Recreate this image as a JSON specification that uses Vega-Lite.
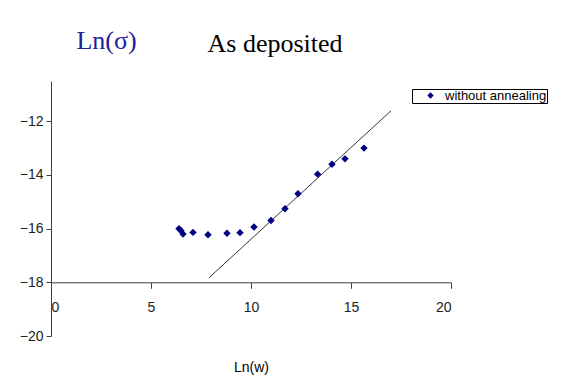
{
  "$schema": "https://vega.github.io/schema/vega-lite/v6.json",
  "width": 400,
  "height": 255,
  "autosize": {"type": "none"},
  "padding": {"left": 51, "top": 81, "right": 116, "bottom": 47},
  "background": "white",
  "config": {
    "view": {"stroke": null},
    "font": "Liberation Sans, Arial, sans-serif"
  },
  "title": {
    "text": "As deposited",
    "font": "Liberation Serif, Times New Roman, serif",
    "fontSize": 26,
    "fontWeight": "normal",
    "color": "#000000",
    "anchor": "middle",
    "frame": "group",
    "dx": 24,
    "baseline": "alphabetic",
    "offset": -51
  },
  "datasets": {
    "points": [
      {"lnw": 6.4, "lns": -16.0, "series": "without annealing"},
      {"lnw": 6.5, "lns": -16.08, "series": "without annealing"},
      {"lnw": 6.6, "lns": -16.2, "series": "without annealing"},
      {"lnw": 7.1, "lns": -16.14, "series": "without annealing"},
      {"lnw": 7.85, "lns": -16.23, "series": "without annealing"},
      {"lnw": 8.8, "lns": -16.17, "series": "without annealing"},
      {"lnw": 9.45, "lns": -16.15, "series": "without annealing"},
      {"lnw": 10.15, "lns": -15.94, "series": "without annealing"},
      {"lnw": 11.0, "lns": -15.7, "series": "without annealing"},
      {"lnw": 11.7, "lns": -15.26, "series": "without annealing"},
      {"lnw": 12.35, "lns": -14.7, "series": "without annealing"},
      {"lnw": 13.33, "lns": -13.97, "series": "without annealing"},
      {"lnw": 14.05, "lns": -13.6, "series": "without annealing"},
      {"lnw": 14.7, "lns": -13.4, "series": "without annealing"},
      {"lnw": 15.65, "lns": -13.0, "series": "without annealing"}
    ],
    "fit": [
      {"lnw": 7.9, "lns": -17.83},
      {"lnw": 17.0, "lns": -11.61}
    ]
  },
  "layer": [
    {
      "data": {"name": "fit"},
      "mark": {"type": "line", "color": "#000000", "strokeWidth": 0.8},
      "encoding": {
        "x": {
          "field": "lnw",
          "type": "quantitative",
          "scale": {"domain": [0, 20], "nice": false, "zero": false},
          "axis": {
            "title": "Ln(w)",
            "values": [0, 5, 10, 15, 20],
            "grid": false,
            "offset": -53.7,
            "domainColor": "#404040",
            "tickColor": "#404040",
            "tickSize": 6,
            "labelPadding": 12,
            "labelFontSize": 14,
            "labelColor": "#222222",
            "titleFontSize": 14,
            "titleFontWeight": "normal",
            "titleColor": "#000000",
            "titlePadding": 46
          }
        },
        "y": {
          "field": "lns",
          "type": "quantitative",
          "scale": {"domain": [-20, -10.5], "nice": false, "zero": false},
          "axis": {
            "title": "Ln(σ)",
            "titleAngle": 0,
            "titleX": 55,
            "titleY": -41,
            "titleAlign": "center",
            "titleBaseline": "middle",
            "titleFont": "Liberation Serif, Times New Roman, serif",
            "titleFontSize": 26,
            "titleFontWeight": "normal",
            "titleColor": "#20209a",
            "values": [-20, -18, -16, -14, -12],
            "grid": false,
            "domainColor": "#404040",
            "tickColor": "#404040",
            "tickSize": 5,
            "labelPadding": 3,
            "labelFontSize": 14,
            "labelColor": "#222222"
          }
        }
      }
    },
    {
      "data": {"name": "points"},
      "mark": {"type": "point", "shape": "diamond", "filled": true, "size": 55, "opacity": 1},
      "encoding": {
        "x": {"field": "lnw", "type": "quantitative"},
        "y": {"field": "lns", "type": "quantitative"},
        "color": {
          "field": "series",
          "type": "nominal",
          "scale": {"range": ["#000080"]},
          "legend": {
            "title": null,
            "orient": "none",
            "legendX": 361,
            "legendY": 8,
            "strokeColor": "#000000",
            "padding": 0,
            "symbolType": "diamond",
            "symbolSize": 40,
            "symbolOffset": 12,
            "labelFontSize": 13,
            "labelColor": "#000000",
            "labelOffset": 8
          }
        }
      }
    }
  ]
}
